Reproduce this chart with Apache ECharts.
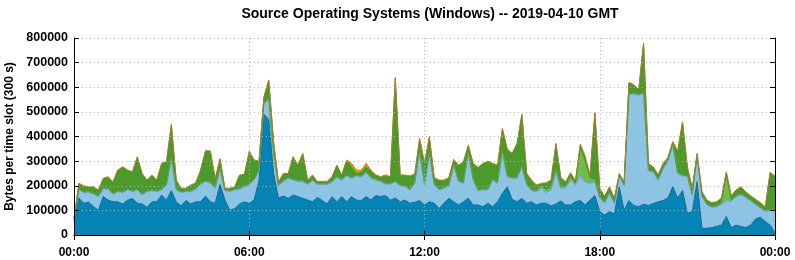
<!DOCTYPE html>
<html>
<head>
<meta charset="utf-8">
<title>Source Operating Systems (Windows)</title>
<script src="https://cdn.jsdelivr.net/npm/echarts@6/dist/echarts.min.js"></script>
<style>
  html, body { margin: 0; padding: 0; background: #fff; }
  #main { width: 795px; height: 260px; }
</style>
</head>
<body>
<div id="main"></div>
<script>
// one value every 10 minutes, 00:00 .. 24:00, in thousands of bytes per 300 s slot
var slotMinutes = 10;
var slotsPerTick = 36; // 6 hours

var darkBlue = [
  55,150,129,134,115,101,156,142,135,135,
  126,142,148,129,126,112,135,135,162,142,
  180,135,118,140,126,135,135,158,135,129,
  205,142,101,107,126,134,129,142,220,490,
  470,250,150,158,149,162,156,149,142,135,
  153,140,126,156,135,156,135,156,142,140,
  156,142,160,156,160,142,150,135,142,129,
  133,140,122,135,129,108,129,149,135,122,
  135,149,122,122,115,129,115,135,169,196,
  145,135,149,129,135,122,129,129,118,126,
  138,122,122,135,140,122,142,160,95,81,
  95,85,195,100,140,120,115,125,120,128,
  135,140,150,196,150,180,88,95,217,27,
  27,30,35,40,75,30,40,35,30,40,
  65,72,55,40,10
];
var lightBlue = [
  7,33,43,39,51,55,31,44,30,41,
  46,41,28,54,36,64,45,41,21,61,
  130,48,54,36,50,51,71,59,75,61,
  65,38,75,76,60,62,74,81,40,40,
  80,80,50,59,81,61,61,68,63,86,
  52,65,79,59,99,67,105,74,98,95,
  98,88,63,61,46,64,65,65,54,54,
  77,198,81,197,74,75,61,50,149,95,
  75,183,101,58,68,54,108,75,169,41,
  85,95,128,74,45,54,61,43,65,131,
  52,68,101,68,100,93,68,55,55,49,
  75,43,45,100,430,452,453,450,140,127,
  87,128,150,169,100,60,149,67,101,129,
  95,82,80,85,65,107,116,128,122,98,
  58,38,40,60,90
];
var lightGreen = [
  3,3,3,3,3,3,3,3,3,3,
  3,3,3,3,3,3,3,3,3,3,
  3,3,3,3,3,3,3,3,3,3,
  3,3,3,3,3,3,3,3,3,3,
  3,3,3,3,3,3,3,3,3,3,
  3,3,3,3,3,3,3,3,3,3,
  3,3,3,3,3,3,3,3,3,3,
  3,3,3,3,3,3,3,3,3,3,
  3,3,3,3,3,3,3,3,3,3,
  3,3,3,3,3,3,8,12,10,10,
  6,8,12,8,110,80,20,10,3,3,
  3,3,3,3,3,3,3,3,3,3,
  3,3,3,3,3,3,3,3,3,3,
  3,3,3,3,100,3,3,3,3,3,
  3,3,3,3,3
];
var darkGreen = [
  1,20,21,16,23,20,36,44,44,81,
  98,74,74,128,81,40,57,40,101,88,
  133,33,11,7,20,19,51,118,125,33,
  33,3,7,6,51,43,130,75,33,23,
  73,43,8,26,13,88,60,108,11,16,
  4,6,6,15,43,14,58,43,6,16,
  19,23,14,13,31,24,418,37,41,50,
  31,48,81,61,24,33,26,28,16,60,
  81,26,61,88,101,110,61,67,88,105,
  95,135,206,40,36,20,8,24,26,101,
  34,14,14,2,10,15,6,269,33,21,
  19,13,1,9,43,31,15,198,23,15,
  16,15,8,8,83,213,33,21,7,13,
  13,13,13,18,12,16,20,26,16,15,
  15,15,13,148,133
];
var orange = [
  4,4,4,4,4,4,4,4,4,4,
  4,4,4,4,4,4,4,4,4,4,
  4,4,4,4,4,4,4,4,4,4,
  4,4,4,4,4,4,4,4,4,4,
  4,4,4,4,4,4,4,4,4,4,
  4,4,4,4,4,4,4,15,15,8,
  15,8,4,4,4,4,4,4,4,4,
  4,4,4,4,4,4,4,4,4,4,
  4,4,4,4,4,4,4,4,4,4,
  4,4,4,4,4,4,4,4,4,4,
  4,4,4,8,10,10,8,4,4,4,
  4,6,6,4,4,4,4,4,4,4,
  4,4,4,4,4,4,4,4,4,4,
  4,4,4,4,5,4,4,4,4,4,
  4,4,4,4,4
];

// category labels HH:MM for each slot (24:00 shown as 00:00)
var slotLabels = darkBlue.map(function (v, i) {
  var m = i * slotMinutes;
  var h = Math.floor(m / 60) % 24;
  var mm = m % 60;
  return (h < 10 ? '0' : '') + h + ':' + (mm < 10 ? '0' : '') + mm;
});

var layers = [
  { name: 'darkBlue', values: darkBlue, fill: '#0583b4', edge: '#16658a' },
  { name: 'lightBlue', values: lightBlue, fill: '#8ec4e3', edge: '#6fa3c2' },
  { name: 'lightGreen', values: lightGreen, fill: '#6dbd4c', edge: '#5aa53c' },
  { name: 'darkGreen', values: darkGreen, fill: '#4d9a2c', edge: '#44882a' },
  { name: 'orange', values: orange, fill: '#e8960f', edge: '#a9802e' }
];

var font = 'Liberation Sans, Arial, sans-serif';
var dotted = { color: '#b4b4b4', width: 1, type: [1, 3] };
var every6h = function (i) { return i % slotsPerTick === 0; };

var chart = echarts.init(document.getElementById('main'));
chart.setOption({
  animation: false,
  title: {
    text: 'Source Operating Systems (Windows) -- 2019-04-10 GMT',
    left: 425,
    textAlign: 'center',
    top: 2,
    textStyle: { fontFamily: font, fontSize: 14, fontWeight: 'bold', color: '#000' }
  },
  grid: { left: 74, right: 20, top: 38, bottom: 25, outerBoundsMode: 'none', containLabel: false },
  xAxis: [
    {
      type: 'category', data: slotLabels, boundaryGap: false, z: 5,
      axisLine: { lineStyle: { color: '#000', width: 1 } },
      axisTick: { inside: true, length: 5, interval: every6h, lineStyle: { color: '#000' } },
      axisLabel: {
        interval: every6h, margin: 12, color: '#000',
        fontFamily: font, fontSize: 12, fontWeight: 'bold'
      },
      splitLine: { show: true, interval: every6h, lineStyle: dotted }
    },
    {
      type: 'category', data: slotLabels, boundaryGap: false, position: 'top', z: 5,
      axisLine: { lineStyle: { color: '#000', width: 1 } },
      axisTick: { inside: true, length: 5, interval: every6h, lineStyle: { color: '#000' } },
      axisLabel: { show: false },
      splitLine: { show: false }
    }
  ],
  yAxis: [
    {
      type: 'value', min: 0, max: 800000, interval: 100000, z: 5,
      name: 'Bytes per time slot (300 s)',
      nameLocation: 'middle',
      nameGap: 53,
      nameTextStyle: { fontFamily: font, fontSize: 12, fontWeight: 'bold', color: '#000' },
      axisLine: { show: true, lineStyle: { color: '#000', width: 1 } },
      axisTick: { show: true, inside: true, length: 5, lineStyle: { color: '#000' } },
      axisLabel: {
        margin: 6, color: '#000', fontFamily: font, fontSize: 12.5, fontWeight: 'bold',
        formatter: function (v) { return String(v); }
      },
      splitLine: { show: true, lineStyle: dotted }
    },
    {
      type: 'value', position: 'right', min: 0, max: 800000, interval: 100000, z: 5,
      axisLine: { show: true, lineStyle: { color: '#000', width: 1 } },
      axisTick: { show: true, inside: true, length: 5, lineStyle: { color: '#000' } },
      axisLabel: { show: false },
      splitLine: { show: false }
    }
  ],
  series: layers.map(function (layer) {
    return {
      name: layer.name,
      type: 'line',
      stack: 'bytes',
      xAxisIndex: 0,
      yAxisIndex: 0,
      symbol: 'none',
      smooth: false,
      lineStyle: { color: layer.edge, width: 1 },
      areaStyle: { color: layer.fill, opacity: 1 },
      data: layer.values.map(function (v) { return v * 1000; })
    };
  })
});
</script>
</body>
</html>
